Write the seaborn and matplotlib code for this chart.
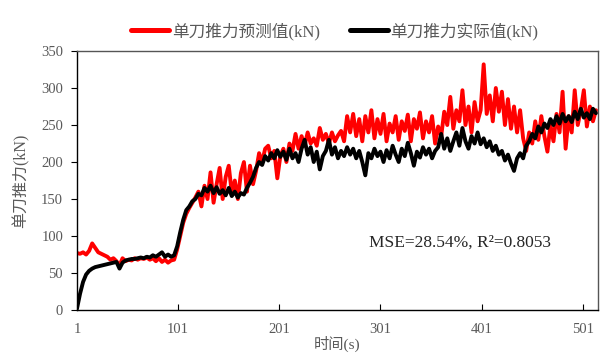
import numpy as np
import pandas as pd
import matplotlib
matplotlib.use("Agg")
import matplotlib.pyplot as plt
import seaborn as sns
from matplotlib.lines import Line2D

# ---- data ----
time_s = list(range(1, 517, 3))

actual_kN = [
    2, 22, 38, 48, 53, 56, 58, 59, 60, 61, 62, 63, 64, 65, 56, 64, 67, 68, 69, 69,
    70, 71, 70, 72, 71, 74, 72, 75, 78, 72, 75, 72, 74, 86, 105, 122, 135, 140, 147, 150,
    157, 155, 165, 160, 168, 158, 166, 157, 162, 155, 165, 154, 160, 152, 158, 156, 165, 172, 180, 192,
    200, 196, 208, 202, 212, 205, 216, 207, 214, 203, 218, 205, 212, 200, 218, 230, 210, 220, 200, 214,
    190, 208, 215, 230, 210, 220, 205, 215, 208, 220, 210, 218, 205, 215, 200, 182, 212, 205, 218, 208,
    214, 200, 216, 205, 222, 210, 200, 218, 208, 226, 212, 195, 214, 206, 220, 210, 218, 205, 215, 220,
    238, 218, 232, 215, 228, 240, 222, 246, 228, 218, 235, 225, 240, 224, 232, 220, 228, 215, 222, 210,
    215, 202, 210, 198, 188, 205, 212, 205, 222, 228, 238, 232, 248, 240, 252, 246, 258, 250, 262, 252,
    265, 255, 262, 254, 268, 258, 272, 260, 266, 258, 272, 266,
]

predicted_kN = [
    77, 76, 78, 75, 80, 90, 84, 78, 76, 74, 72, 68, 70, 66, 60, 70, 66, 68, 67, 70,
    68, 70, 69, 71, 68, 70, 66, 70, 65, 68, 64, 67, 68, 82, 100, 118, 130, 138, 145, 152,
    160, 140, 168, 150, 186, 145, 170, 192, 150, 180, 195, 158, 175, 150, 185, 200, 160, 195, 170, 188,
    212, 200, 218, 222, 205, 215, 178, 208, 218, 200, 225, 215, 238, 218, 235, 222, 240, 225, 232, 222,
    246, 230, 238, 225, 240, 228, 236, 242, 228, 262, 240, 265, 235, 258, 228, 262, 240, 270, 232, 258,
    238, 265, 228, 252, 240, 262, 230, 255, 242, 264, 228, 258, 245, 267, 232, 255, 240, 262, 225, 248,
    235, 268, 250, 288, 245, 270, 255, 297, 250, 275, 240, 281, 255, 270, 332, 265, 290, 255, 300, 268,
    295, 250, 285, 245, 275, 240, 270, 232, 215, 240, 225, 255, 230, 262, 235, 214, 250, 228, 265, 240,
    295, 218, 262, 240, 297, 250, 270, 297, 248, 275, 255, 270,
]

series_names = ["单刀推力预测值(kN)", "单刀推力实际值(kN)"]
series_colors = ["#FF0000", "#000000"]
x_ticks = [1, 101, 201, 301, 401, 501]
y_ticks = [0, 50, 100, 150, 200, 250, 300, 350]
x_label = "时间(s)"
y_label = "单刀推力(kN)"
note_text = "MSE=28.54%, R²=0.8053"

df = pd.DataFrame({
    "time": time_s * 2,
    "value": predicted_kN + actual_kN,
    "series": [series_names[0]] * len(time_s) + [series_names[1]] * len(time_s),
})

# ---- style ----
sns.set_theme(style="ticks")
plt.rcParams["font.family"] = ["Liberation Serif", "Noto Sans CJK SC", "DejaVu Sans"]
plt.rcParams["axes.unicode_minus"] = False

fig = plt.figure(figsize=(6.03, 3.58), dpi=100)
ax = fig.add_axes([0.1277, 0.134, 0.864, 0.7235])

sns.lineplot(data=df, x="time", y="value", hue="series",
             palette=dict(zip(series_names, series_colors)),
             linewidth=2.8, ax=ax, legend=False, estimator=None)

ax.set_xlim(1, 516)
ax.set_ylim(0, 350)
ax.set_xticks(x_ticks)
ax.set_yticks(y_ticks)

grey = "#595959"
ax.tick_params(axis="x", direction="in", length=4, width=0.8, colors="black",
               labelcolor=grey, labelsize=10.5, pad=9)
ax.tick_params(axis="y", direction="out", length=4, width=0.8, colors="black",
               labelcolor=grey, labelsize=10.5, pad=6)

for side in ["left", "bottom"]:
    ax.spines[side].set_color("black")
    ax.spines[side].set_linewidth(1.0)
for side in ["top", "right"]:
    ax.spines[side].set_visible(True)
    ax.spines[side].set_color("#555555")
    ax.spines[side].set_linewidth(1.0)

ax.set_xlabel(x_label, fontsize=11, color=grey, labelpad=0)
ax.set_ylabel(y_label, fontsize=11.5, color=grey, labelpad=8)

ax.text(290, 91, note_text, fontsize=12.5, color="#262626", va="center", ha="left")

handles = [Line2D([0], [0], color=c, lw=3.6) for c in series_colors]
fig.legend(handles, series_names, loc="center", bbox_to_anchor=(0.555, 0.913),
           ncol=2, frameon=False, fontsize=12, handlelength=2.3, handletextpad=0.15,
           columnspacing=1.8, labelcolor=grey)

fig.savefig("out.png", dpi=100)
